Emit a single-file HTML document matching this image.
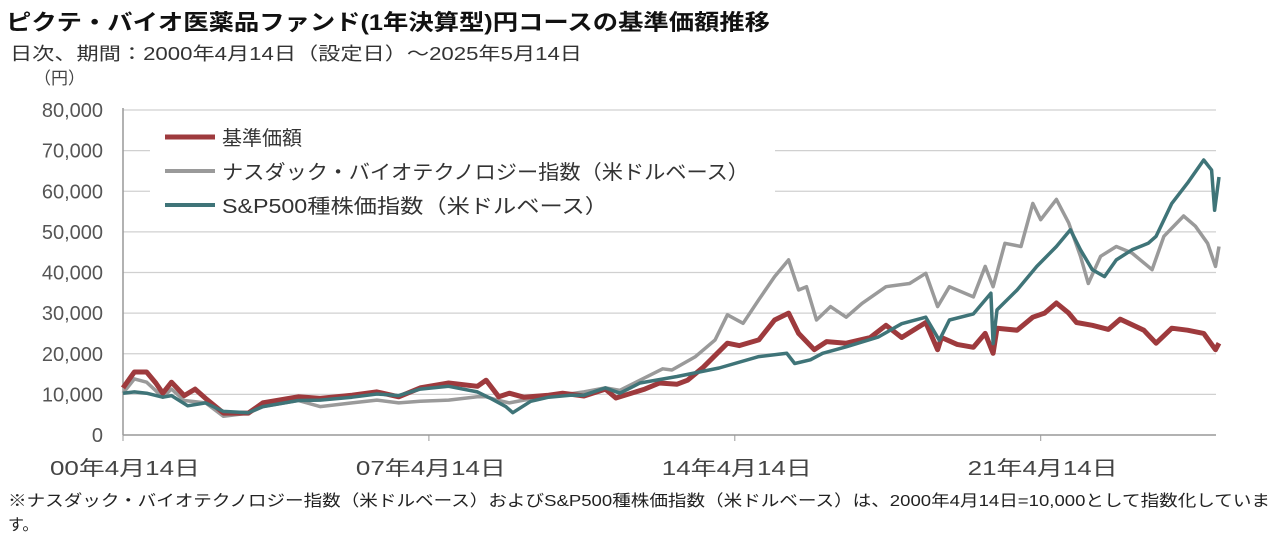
<!DOCTYPE html>
<html><head><meta charset="utf-8">
<style>
html,body{margin:0;padding:0;background:#fff;}
svg{display:block;font-family:"Liberation Sans","Noto Sans CJK JP",sans-serif;}
</style></head>
<body>
<svg id="chart" width="1282" height="548" viewBox="0 0 1282 548">
<text x="6" y="30" font-size="22" font-weight="bold" fill="#111" textLength="764" lengthAdjust="spacingAndGlyphs">ピクテ・バイオ医薬品ファンド(1年決算型)円コースの基準価額推移</text>
<text x="10" y="60" font-size="18" fill="#333" textLength="572" lengthAdjust="spacingAndGlyphs">日次、期間：2000年4月14日（設定日）～2025年5月14日</text>
<text x="34" y="84" font-size="17" fill="#444">（円）</text>
<g id="grid"></g>
<g id="yticks"></g>
<g id="xticks"></g>
<g id="series"></g>
<rect x="150" y="122" width="625" height="102" fill="#fff"/>
<g>
 <g>
  <line x1="165" y1="137" x2="215" y2="137" stroke="#9e3a3d" stroke-width="5"/>
  <text x="222" y="145" font-size="20" fill="#333">基準価額</text>
 </g>
 <g>
  <line x1="165" y1="171" x2="215" y2="171" stroke="#9a9a9a" stroke-width="4"/>
  <text x="222" y="179" font-size="20" fill="#333" textLength="527" lengthAdjust="spacingAndGlyphs">ナスダック・バイオテクノロジー指数（米ドルベース）</text>
 </g>
 <g>
  <line x1="165" y1="205" x2="215" y2="205" stroke="#3f7478" stroke-width="4"/>
  <text x="222" y="213" font-size="20" fill="#333" textLength="386" lengthAdjust="spacingAndGlyphs">S&amp;P500種株価指数（米ドルベース）</text>
 </g>
</g>
<text x="8" y="506" font-size="16" fill="#222" textLength="1262" lengthAdjust="spacingAndGlyphs">※ナスダック・バイオテクノロジー指数（米ドルベース）およびS&amp;P500種株価指数（米ドルベース）は、2000年4月14日=10,000として指数化していま</text>
<text x="8" y="530" font-size="16" fill="#222">す。</text>
</svg>
<script>
const yTicks=[0,10000,20000,30000,40000,50000,60000,70000,80000];
const xTickYears=[2000.29,2007.29,2014.29,2021.29];
const xTickLabels=["00年4月14日","07年4月14日","14年4月14日","21年4月14日"];

const fundYears=[2000.29,2000.55,2000.83,2001.04,2001.2,2001.4,2001.69,2001.94,2002.18,2002.59,2003.16,2003.49,2004.3,2004.8,2005.53,2006.1,2006.6,2007.09,2007.74,2008.4,2008.6,2008.89,2009.13,2009.46,2010.03,2010.35,2010.84,2011.33,2011.57,2012.23,2012.57,2012.97,2013.21,2013.57,2014.12,2014.39,2014.84,2015.2,2015.52,2015.75,2016.11,2016.39,2016.84,2017.39,2017.75,2018.11,2018.66,2018.93,2019.02,2019.38,2019.75,2020.02,2020.2,2020.29,2020.75,2021.11,2021.38,2021.65,2021.93,2022.11,2022.47,2022.84,2023.11,2023.65,2023.93,2024.29,2024.65,2025.02,2025.29,2025.37];
const fundValues=[11.6,15.5,15.5,12.8,10.3,13,9.7,11.3,9,5.4,5.4,7.9,9.4,9,9.8,10.6,9.4,11.6,12.8,12,13.5,9.4,10.3,9.3,9.8,10.3,9.6,11.3,9.1,11.3,12.8,12.5,13.5,16.7,22.6,22,23.4,28.3,30,25,21,23,22.6,24,27,24,27.7,21,24,22.3,21.6,25,20.1,26.3,25.8,29,30,32.5,30,27.7,27,26,28.5,25.8,22.6,26.3,25.8,25,21,22.6];

const nbiYears=[2000.29,2000.55,2000.83,2001.2,2001.4,2001.69,2002.18,2002.59,2003.16,2003.49,2004.3,2004.8,2005.53,2006.1,2006.6,2007.09,2007.74,2008.4,2008.6,2008.89,2009.13,2009.46,2010.03,2010.84,2011.33,2011.66,2012.12,2012.64,2012.85,2013.39,2013.84,2014.12,2014.48,2014.84,2015.2,2015.52,2015.75,2015.93,2016.16,2016.48,2016.84,2017.2,2017.75,2018.29,2018.66,2018.93,2019.2,2019.75,2020.02,2020.2,2020.47,2020.84,2021.11,2021.29,2021.65,2021.93,2022.2,2022.38,2022.66,2023.02,2023.38,2023.84,2024.11,2024.56,2024.83,2025.11,2025.29,2025.37];
const nbiValues=[10.3,13.8,13,9.3,11.3,8.5,7.9,4.6,5.4,7,8.5,7,7.9,8.6,7.9,8.3,8.6,9.4,9.4,8.5,7.9,8.6,9.4,10.6,11.6,11,13.5,16.3,16,19.3,23.4,29.6,27.5,33.3,39,43.1,35.7,36.5,28.3,31.6,29,32.4,36.5,37.3,39.8,31.6,36.5,34,41.5,36.5,47.2,46.4,57,53,58,52.2,44,37.3,44,46.4,44.8,40.7,48.9,53.9,51.4,47.2,41.5,46.4];

const spYears=[2000.29,2000.55,2000.83,2001.2,2001.4,2001.77,2002.18,2002.59,2003.16,2003.49,2004.3,2004.8,2005.53,2006.1,2006.6,2007.09,2007.74,2008.4,2008.72,2009.05,2009.21,2009.62,2010.03,2010.52,2010.84,2011.33,2011.66,2012.12,2012.97,2013.93,2014.84,2015.48,2015.66,2016.02,2016.3,2016.84,2017.57,2018.11,2018.66,2018.97,2019.2,2019.75,2020.15,2020.2,2020.29,2020.75,2021.2,2021.65,2021.97,2022.2,2022.47,2022.75,2023.02,2023.38,2023.75,2023.93,2024.29,2024.65,2025.02,2025.2,2025.27,2025.37];
const spValues=[10.3,10.6,10.3,9.3,9.7,7.2,7.9,5.8,5.5,7,8.5,8.6,9.3,10.1,9.7,11.3,12,10.6,8.9,7,5.5,8.3,9.3,9.8,9.8,11.6,10.3,12.8,14.4,16.5,19.3,20.1,17.6,18.5,20.1,21.7,24.1,27.4,29,23.3,28.3,29.8,34.9,22.5,30.8,35.7,41.5,46.4,50.5,45.6,40.7,39,43.1,45.6,47.2,48.9,57,62,67.7,65.2,55.3,63.5];

const NS="http://www.w3.org/2000/svg";
const X0=123,X1=1216,Y0=435,Y1=110,YMAX=80000;
const PXY=43.7;
function xs(yr){return X0+(yr-2000.29)*PXY;}
function ys(v){return Y0-(v/YMAX)*(Y0-Y1);}
function mk(tag,attrs,parent){const e=document.createElementNS(NS,tag);for(const k in attrs)e.setAttribute(k,attrs[k]);parent.appendChild(e);return e;}

const grid=document.getElementById('grid');
const yt=document.getElementById('yticks');
yTicks.forEach(v=>{
  if(v>0){
    const l=mk('line',{x1:X0,x2:X1,y1:ys(v),y2:ys(v),stroke:'#d0d0d0','stroke-width':1.2},grid);
    
    
  }
  const t=mk('text',{x:103,y:ys(v)+7,'font-size':20,fill:'#555','text-anchor':'end'},yt);
  t.textContent=v===0?'0':v.toLocaleString('en-US');
  
  
});
const ax=mk('line',{x1:X0,x2:X0,y1:Y1-2,y2:Y0,stroke:'#999','stroke-width':1.5},yt);


const xt=document.getElementById('xticks');
const xa=mk('line',{x1:X0,x2:X1,y1:Y0,y2:Y0,stroke:'#999','stroke-width':1.5},xt);


xTickYears.forEach((yr,i)=>{
  const tk=mk('line',{x1:xs(yr),x2:xs(yr),y1:Y0,y2:Y0+6,stroke:'#999','stroke-width':1},xt);
  
  
  const t=mk('text',{x:xs(yr)+2,y:Y0+40,'font-size':20,fill:'#444','text-anchor':'middle',textLength:150,lengthAdjust:'spacingAndGlyphs'},xt);
  t.textContent=xTickLabels[i];
  
  
});

const sg=document.getElementById('series');
function drawLine(years,vals,color,w,name){
  const d=years.map((yr,i)=>(i?'L':'M')+xs(yr).toFixed(1)+','+ys(vals[i]*1000).toFixed(1)).join(' ');
  const p=mk('path',{d:d,fill:'none',stroke:color,'stroke-width':w,'stroke-linejoin':'round'},sg);
  
  
}
drawLine(nbiYears,nbiValues,'#9a9a9a',3.5,'nasdaq-biotech-line');
drawLine(fundYears,fundValues,'#9e3a3d',5,'fund-nav-line');
drawLine(spYears,spValues,'#3f7478',3.5,'sp500-line');
</script>
</body></html>
